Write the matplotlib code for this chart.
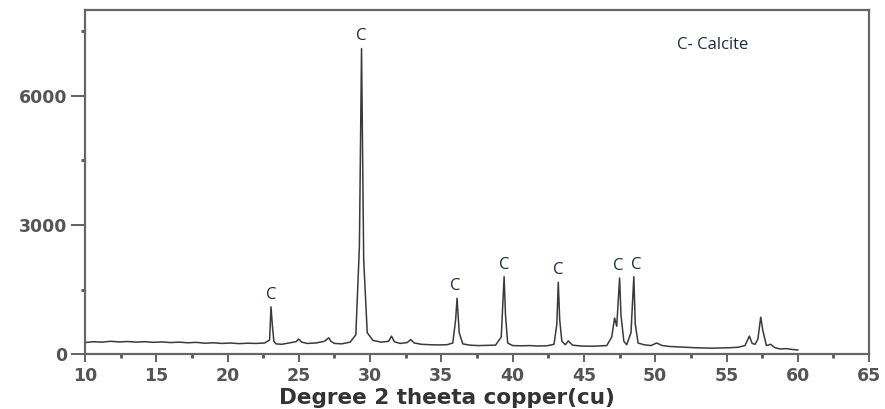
import matplotlib
matplotlib.use("Agg")
import matplotlib.pyplot as plt
from matplotlib.ticker import MultipleLocator

two_theta = [10.0, 10.6, 11.2, 11.8, 12.4, 13.0, 13.6, 14.2, 14.8, 15.4, 16.0, 16.6,
             17.2, 17.8, 18.4, 19.0, 19.6, 20.2, 20.8, 21.4, 22.0, 22.6, 22.95, 23.05,
             23.15, 23.25, 23.4, 23.8, 24.3, 24.8, 25.0, 25.2, 25.6, 26.2, 26.8, 27.1,
             27.25, 27.5, 28.0, 28.6, 29.0, 29.25, 29.4, 29.55, 29.8, 30.2, 30.8, 31.3,
             31.5, 31.7, 32.1, 32.6, 32.85, 33.1, 33.6, 34.2, 34.8, 35.4, 35.8, 36.0,
             36.1, 36.25, 36.5, 37.0, 37.6, 38.2, 38.8, 39.2, 39.4, 39.5, 39.65, 40.0,
             40.6, 41.2, 41.8, 42.4, 42.9, 43.1, 43.2, 43.3, 43.45, 43.7, 43.9, 44.2,
             44.8, 45.4, 46.0, 46.6, 46.95, 47.15, 47.3, 47.5, 47.6, 47.8, 48.0, 48.3,
             48.5, 48.6, 48.8, 49.2, 49.7, 50.1, 50.5, 51.0, 51.6, 52.2, 52.8, 53.4,
             54.0, 54.6, 55.2, 55.8, 56.3, 56.6, 56.8, 57.0, 57.2, 57.4, 57.55, 57.8,
             58.1, 58.4, 58.8, 59.2, 59.6, 60.0]
intensity = [270, 290, 280, 300, 285, 295, 280, 290, 275, 285, 270, 280,
             265, 275, 255, 265, 250, 260, 245, 255, 250, 260, 330, 1100,
             650, 300, 240, 230, 260, 290, 350, 280, 250, 260, 300, 380,
             300, 250, 240, 280, 450, 2500, 7100, 2200, 500, 320, 280, 300,
             420, 290, 250, 270, 340, 260, 230, 220, 215, 220, 260, 800,
             1300, 500, 240, 210, 200, 205, 210, 400, 1800, 900, 260, 200,
             195, 200, 190, 195, 230, 700, 1670, 800, 300, 220, 310, 210,
             190, 185, 190, 200, 400, 840, 650, 1770, 900, 300, 220, 500,
             1800, 700, 260, 220, 200, 260, 200, 180, 170, 160, 150, 145,
             140, 145, 150, 160, 200, 420, 250, 230, 350, 860, 550, 200,
             230, 150, 120, 130, 110, 100]

peak_pos = [23.1, 29.4, 36.0, 39.4, 43.2, 47.4, 48.7]
peak_top = [1100, 7100, 1300, 1800, 1670, 1770, 1800]
peak_labels = ["C", "C", "C", "C", "C", "C", "C"]

x_ticks = [10, 15, 20, 25, 30, 35, 40, 45, 50, 55, 60, 65]
y_ticks = [0, 3000, 6000]

fig = plt.figure(figsize=(8.85, 4.09), dpi=100)
ax = fig.add_axes([0.096, 0.134, 0.886, 0.842])

ax.plot(two_theta, intensity, color="#3a3a3a", lw=1.1)

ax.set_xlim(10, 65)
ax.set_ylim(0, 8000)
ax.set_xticks(x_ticks)
ax.set_yticks(y_ticks)
ax.xaxis.set_minor_locator(MultipleLocator(2.5))
ax.yaxis.set_minor_locator(MultipleLocator(1500))

for lab in ax.get_xticklabels() + ax.get_yticklabels():
    lab.set_fontfamily("DejaVu Sans")
    lab.set_fontweight("bold")
    lab.set_fontsize(12.5)
    lab.set_color("#555555")

ax.tick_params(axis="both", which="major", direction="out", color="#555555",
               width=1.3, length=6)
ax.tick_params(axis="y", which="major", length=10, pad=3)
ax.tick_params(axis="both", which="minor", direction="out", color="#555555",
               width=2, length=3)

for sp in ax.spines.values():
    sp.set_color("#666666")
    sp.set_linewidth(1.6)

ax.set_xlabel("Degree 2 theeta copper(cu)", fontfamily="DejaVu Sans",
              fontweight="bold", fontsize=15.5, color="#333333")
ax.xaxis.set_label_coords(0.462, -0.098)

for x, y, t in zip(peak_pos, peak_top, peak_labels):
    ax.annotate(t, xy=(x, y), xytext=(0, 3), textcoords="offset points",
                ha="center", va="bottom", fontfamily="Open Sans", fontsize=12,
                color="#1f2a44")

ax.text(0.755, 0.898, "C- Calcite", transform=ax.transAxes, ha="left",
        va="center", fontfamily="Open Sans", fontsize=12, color="#1f2a44")

fig.savefig("out.png", dpi=100)
